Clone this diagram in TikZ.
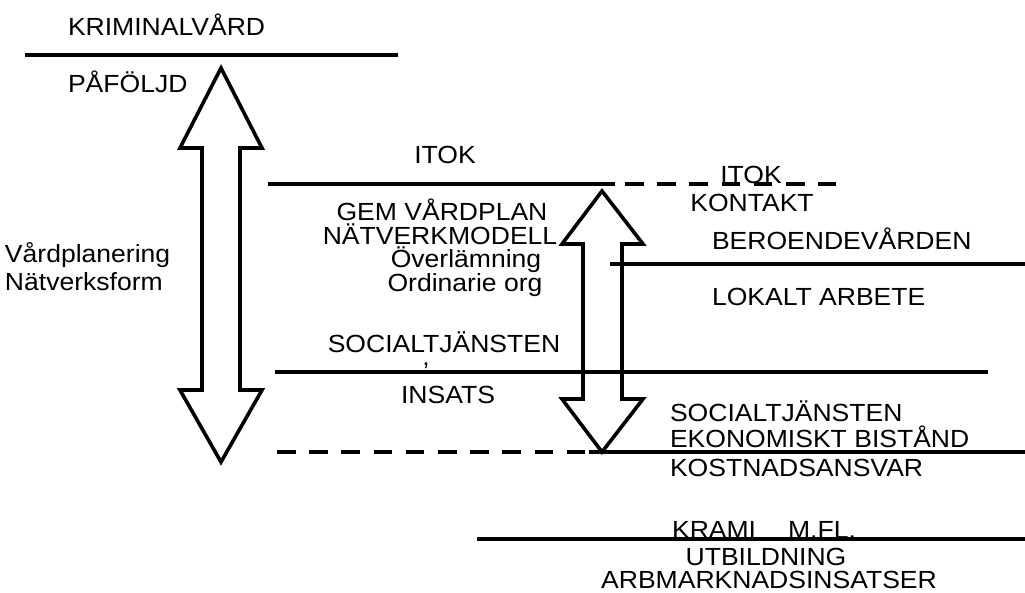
\documentclass[tikz,border=0pt]{standalone}
\usepackage{fontspec}
\setmainfont{Liberation Sans}[FakeStretch=1.07]
\begin{document}
\begin{tikzpicture}[x=1pt,y=-1pt,
  lbl/.style={inner sep=0pt,outer sep=0pt,anchor=base,font=\fontsize{24.8}{29}\selectfont},
  lblw/.style={lbl,anchor=base west},
  rule/.style={line width=4pt},
  dashrule/.style={line width=4pt,dash pattern=on 18.5pt off 13.7pt},
  bigarrow/.style={line width=3.6pt,line join=miter}]
\useasboundingbox (0,0) rectangle (1025,592);

% left double arrow (outline only, rules run across it)
\draw[bigarrow] (221,68) -- (262,148) -- (240,148) -- (240,390) -- (262,390)
  -- (221,462) -- (180,390) -- (202,390) -- (202,148) -- (180,148) -- cycle;

% right double arrow
\draw[bigarrow] (602,191) -- (643,244) -- (622,244) -- (622,399) -- (643,399)
  -- (602,452) -- (562,399) -- (583,399) -- (583,244) -- (562,244) -- cycle;

% horizontal rules
\coordinate (r1a) at (25,55);   \coordinate (r1b) at (398,55);
\coordinate (r2a) at (268,184); \coordinate (r2b) at (615,184);
\coordinate (r2c) at (625,184); \coordinate (r2d) at (836,184);
\coordinate (r3a) at (610,264); \coordinate (r3b) at (1025,264);
\coordinate (r4a) at (275,372); \coordinate (r4b) at (988,372);
\coordinate (r5a) at (277,452); \coordinate (r5b) at (586,452);
\coordinate (r5c) at (589,452); \coordinate (r5d) at (1025,452);
\coordinate (r6a) at (477,539); \coordinate (r6b) at (1025,539);

\draw[rule] (r1a) -- (r1b);
\draw[rule] (r2a) -- (r2b);
\draw[dashrule] (r2c) -- (r2d);
\draw[rule] (r3a) -- (r3b);
\draw[rule] (r4a) -- (r4b);
\draw[dashrule] (r5a) -- (r5b);
\draw[rule] (r5c) -- (r5d);
\draw[rule] (r6a) -- (r6b);

% labels
\node[lblw] (krim) at (68,35) {KRIMINALVÅRD};
\node[lblw] (paf) at (68,92) {PÅFÖLJD};
\node[lblw] (vard1) at (5,262) {Vårdplanering};
\node[lblw] (vard2) at (5,290) {Nätverksform};

\node[lbl] (itok) at (445,163) {ITOK};
\node[lbl] (gem) at (442,220) {GEM VÅRDPLAN};
\node[lbl] (natv) at (440,244) {NÄTVERKMODELL};
\node[lbl] (over) at (466,267) {Överlämning};
\node[lbl] (ord) at (465,291) {Ordinarie org};
\node[lbl] (soc1) at (444,352) {SOCIALTJÄNSTEN};
\node[lbl] (comma) at (426,365) {,};
\node[lbl] (ins) at (448,403) {INSATS};

\node[lbl] (itok2) at (751,183) {ITOK};
\node[lbl] (kont) at (752,211) {KONTAKT};
\node[lblw] (ber) at (712,249) {BEROENDEVÅRDEN};
\node[lblw] (lok) at (712,305) {LOKALT ARBETE};

\node[lblw] (soc2) at (670,421) {SOCIALTJÄNSTEN};
\node[lblw] (eko) at (670,447) {EKONOMISKT BISTÅND};
\node[lblw] (kost) at (670,476) {KOSTNADSANSVAR};

\node[lbl] (krami) at (764,538) {KRAMI\hspace{32pt}M.FL.};
\node[lbl] (utb) at (766,565) {UTBILDNING};
\node[lbl] (arb) at (769,588) {ARBMARKNADSINSATSER};
\end{tikzpicture}
\end{document}
